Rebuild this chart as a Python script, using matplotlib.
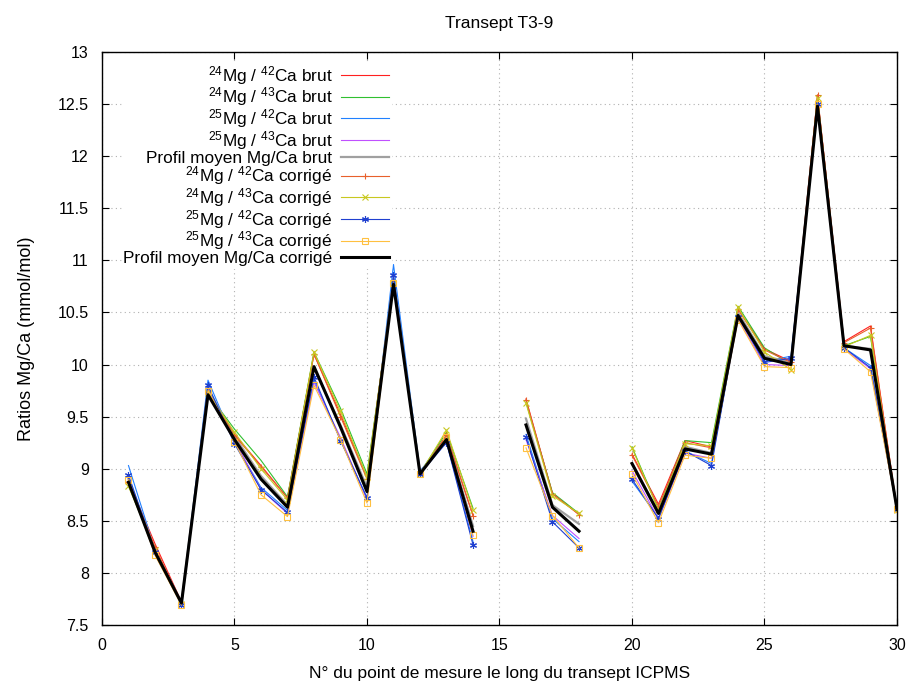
import numpy as np
import matplotlib
matplotlib.use("Agg")
import matplotlib.pyplot as plt

plt.rcParams['font.family'] = ['Liberation Sans', 'DejaVu Sans']
plt.rcParams['mathtext.fontset'] = 'custom'
plt.rcParams['mathtext.rm'] = 'Liberation Sans'
plt.rcParams['mathtext.it'] = 'Liberation Sans'

nan = np.nan
x = list(range(1, 31))

mg24_ca42_brut = [8.88, 8.28, 7.72, 9.74, 9.33, 9.03, 8.72, 10.10, 9.52, 8.92, 10.78, 8.96, 9.32, 8.55, nan,
                  9.67, 8.76, 8.56, nan, 9.14, 8.66, 9.27, 9.21, 10.54, 10.15, 10.03, 12.58, 10.22, 10.37, 8.61]
mg24_ca43_brut = [8.84, 8.22, 7.71, 9.72, 9.38, 9.08, 8.73, 10.12, 9.58, 8.95, 10.76, 8.96, 9.35, 8.62, nan,
                  9.64, 8.77, 8.57, nan, 9.21, 8.61, 9.27, 9.25, 10.56, 10.16, 10.00, 12.55, 10.18, 10.27, 8.60]
mg25_ca42_brut = [9.03, 8.22, 7.70, 9.85, 9.25, 8.82, 8.60, 9.85, 9.28, 8.72, 10.96, 8.98, 9.26, 8.30, nan,
                  9.33, 8.52, 8.30, nan, 8.88, 8.53, 9.17, 9.05, 10.47, 10.03, 10.08, 12.50, 10.16, 9.99, 8.61]
mg25_ca43_brut = [8.90, 8.18, 7.70, 9.74, 9.27, 8.80, 8.57, 9.83, 9.30, 8.70, 10.80, 8.95, 9.28, 8.35, nan,
                  9.28, 8.55, 8.33, nan, 8.98, 8.52, 9.15, 9.10, 10.44, 10.00, 9.99, 12.48, 10.15, 9.96, 8.61]
moyen_brut = [8.90, 8.22, 7.71, 9.76, 9.31, 8.93, 8.65, 9.97, 9.42, 8.82, 10.82, 8.96, 9.30, 8.45, nan,
              9.48, 8.65, 8.47, nan, 9.05, 8.58, 9.21, 9.15, 10.50, 10.08, 10.02, 12.52, 10.18, 10.15, 8.61]
mg24_ca42_corr = [8.87, 8.25, 7.70, 9.74, 9.32, 9.02, 8.72, 10.10, 9.50, 8.90, 10.80, 8.95, 9.32, 8.55, nan,
                  9.66, 8.76, 8.56, nan, 9.13, 8.64, 9.25, 9.20, 10.53, 10.14, 10.02, 12.59, 10.21, 10.35, 8.61]
mg24_ca43_corr = [8.83, 8.22, 7.70, 9.73, 9.35, 9.00, 8.70, 10.12, 9.55, 8.92, 10.78, 8.95, 9.37, 8.60, nan,
                  9.63, 8.74, 8.57, nan, 9.20, 8.60, 9.24, 9.22, 10.55, 10.12, 9.95, 12.56, 10.17, 10.28, 8.60]
mg25_ca42_corr = [8.94, 8.20, 7.69, 9.80, 9.24, 8.80, 8.58, 9.88, 9.27, 8.72, 10.86, 8.95, 9.25, 8.27, nan,
                  9.30, 8.49, 8.24, nan, 8.90, 8.52, 9.17, 9.03, 10.46, 10.02, 10.06, 12.50, 10.16, 9.97, 8.61]
mg25_ca43_corr = [8.89, 8.17, 7.69, 9.75, 9.26, 8.75, 8.54, 9.80, 9.28, 8.67, 10.78, 8.95, 9.30, 8.36, nan,
                  9.20, 8.55, 8.24, nan, 8.95, 8.48, 9.13, 9.10, 10.43, 9.98, 9.97, 12.50, 10.15, 9.93, 8.61]
moyen_corr = [8.87, 8.20, 7.71, 9.71, 9.28, 8.90, 8.63, 9.98, 9.40, 8.78, 10.77, 8.95, 9.28, 8.40, nan,
              9.42, 8.63, 8.40, nan, 9.05, 8.57, 9.19, 9.14, 10.47, 10.06, 10.00, 12.48, 10.18, 10.14, 8.61]

labels = [r"$^{24}$Mg / $^{42}$Ca brut", r"$^{24}$Mg / $^{43}$Ca brut",
          r"$^{25}$Mg / $^{42}$Ca brut", r"$^{25}$Mg / $^{43}$Ca brut",
          "Profil moyen Mg/Ca brut",
          r"$^{24}$Mg / $^{42}$Ca corrigé", r"$^{24}$Mg / $^{43}$Ca corrigé",
          r"$^{25}$Mg / $^{42}$Ca corrigé", r"$^{25}$Mg / $^{43}$Ca corrigé",
          "Profil moyen Mg/Ca corrigé"]

series = [mg24_ca42_brut, mg24_ca43_brut, mg25_ca42_brut, mg25_ca43_brut, moyen_brut,
          mg24_ca42_corr, mg24_ca43_corr, mg25_ca42_corr, mg25_ca43_corr, moyen_corr]
styles = [
    dict(color='#ff2020', lw=0.8),
    dict(color='#30c030', lw=0.8),
    dict(color='#2080ff', lw=0.8),
    dict(color='#c050ff', lw=0.8),
    dict(color='#a0a0a0', lw=1.6),
    dict(color='#e8602c', lw=0.8, marker='+', ms=5, mew=0.8),
    dict(color='#c8c820', lw=0.8, marker='x', ms=4, mew=0.8),
    dict(color='#2040d0', lw=0.8, marker=(6, 2, 0), ms=5, mew=0.8),
    dict(color='#ffc040', lw=0.8, marker='s', ms=4, mfc='none', mew=0.8),
    dict(color='black', lw=2.2),
]

fig = plt.figure(figsize=(9.09, 6.84), dpi=100)
ax = fig.add_axes([0.1122, 0.0863, 0.8746, 0.8377])

for s, lab, st in zip(series, labels, styles):
    ax.plot(x, s, label=lab, **st)

ax.set_xlim(0, 30)
ax.set_ylim(7.5, 13)
ax.set_xticks(range(0, 31, 5))
ax.set_yticks(np.arange(7.5, 13.01, 0.5))
ax.set_yticklabels(['7.5', '8', '8.5', '9', '9.5', '10', '10.5', '11', '11.5', '12', '12.5', '13'])
ax.tick_params(direction='in', top=True, right=True, length=5, width=0.8, labelsize=11.5, pad=9.5)
ax.grid(True, linestyle=(0, (1, 3)), color='#b0b0b0', linewidth=0.8)
ax.set_axisbelow(True)
for sp in ax.spines.values():
    sp.set_linewidth(1.0)

ax.set_title("Transept T3-9", fontsize=12.5, pad=17)
ax.set_xlabel("N° du point de mesure le long du transept ICPMS", fontsize=12.5, labelpad=9)
ax.set_ylabel("Ratios Mg/Ca (mmol/mol)", fontsize=13, labelpad=16)

leg = ax.legend(loc='upper right', bbox_to_anchor=((391 - 102) / 795, 1 - 10 / 573), markerfirst=False,
                frameon=True, fontsize=12.4, handlelength=2.8, handletextpad=0.5, labelspacing=-0.07,
                borderaxespad=0.0, numpoints=1, framealpha=1.0, edgecolor='white',
                fancybox=False, borderpad=0.1)
for t in leg.get_texts():
    t.set_ha('right')
leg._legend_box.align = "right"

fig.savefig("out.png", dpi=100)
